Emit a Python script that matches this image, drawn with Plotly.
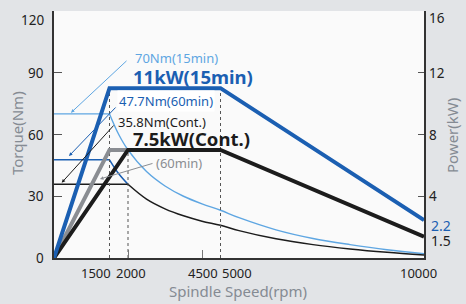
import plotly.graph_objects as go

# ---------------- data ----------------
# power curves (kW) vs spindle speed (rpm)
rpm_pow_15 = [0, 1500, 4500, 10000]
pow_15 = [0, 11, 11, 2.45]
rpm_pow_60 = [0, 1500, 2000]
pow_60 = [0, 7.0, 7.0]
rpm_pow_cont = [0, 2000, 4500, 10000]
pow_cont = [0, 7.0, 7.0, 1.38]

# torque curves (Nm)
rpm_tq_15_flat = [0, 1500]
tq_15_flat = [70, 70]
rpm_tq_15 = [1500, 1750, 2000, 2500, 3000, 3500, 4000, 4500, 5000, 6000, 7000, 8000, 9000, 10000]
tq_15 = [70, 60, 52.5, 42, 35, 30, 26.3, 23.2, 19.6, 13.7, 9.5, 6.5, 4.0, 2.1]
rpm_tq_60_flat = [0, 1500]
tq_60_flat = [47.7, 47.7]
rpm_tq_60 = [1500, 1750, 2000]
tq_60 = [47.7, 40.9, 35.8]
rpm_tq_cont_flat = [0, 2000]
tq_cont_flat = [35.8, 35.8]
rpm_tq_cont = [2000, 2500, 3000, 3500, 4000, 4500, 5000, 6000, 7000, 8000, 9000, 10000]
tq_cont = [35.8, 28.6, 23.9, 20.5, 17.9, 15.9, 13.3, 9.3, 6.5, 4.4, 2.75, 1.43]

# reference (dotted) speeds and their top power
ref_rpm = [1500, 2000, 4500]
ref_top_pow = [11, 7.0, 11]

# tick labels
x_tick_vals = [1500, 2000, 4500, 5000, 10000]
x_tick_text = ["1500", "2000", "4500", "5000", "10000"]
x_tick_shift = [-14, 3, -18, -2, -6]
torque_ticks = [0, 30, 60, 90, 120]
torque_tick_text = ["0", "30", "60", "90", "120"]
power_ticks = [4, 8, 12, 16]
power_tick_text = ["4", "8", "12", "16"]

# ---------------- styling ----------------
W, H = 466, 304
ML, MR, MT, MB = 54, 42, 11, 46
PW = W - ML - MR
PH = H - MT - MB

LIGHT_BLUE = "#5ea6e2"
BLUE = "#1b5fb2"
BLACK = "#1c1c1c"
GREY = "#8a8d92"
TITLE_GREY = "#858b93"
FONT = "Noto Sans"


def px2paper(px, py):
    return (px - ML) / PW, (H - MB - py) / PH


fig = go.Figure()

# thin torque lines
fig.add_trace(go.Scatter(x=rpm_tq_15_flat, y=tq_15_flat, mode="lines",
                         line=dict(color=LIGHT_BLUE, width=1.4), hoverinfo="skip"))
fig.add_trace(go.Scatter(x=rpm_tq_15, y=tq_15, mode="lines",
                         line=dict(color=LIGHT_BLUE, width=1.4, shape="spline"), hoverinfo="skip"))
fig.add_trace(go.Scatter(x=rpm_tq_60_flat, y=tq_60_flat, mode="lines",
                         line=dict(color=BLUE, width=1.5), hoverinfo="skip"))
fig.add_trace(go.Scatter(x=rpm_tq_60, y=tq_60, mode="lines",
                         line=dict(color=BLUE, width=1.5, shape="spline"), hoverinfo="skip"))
fig.add_trace(go.Scatter(x=rpm_tq_cont_flat, y=tq_cont_flat, mode="lines",
                         line=dict(color=BLACK, width=1.4), hoverinfo="skip"))
fig.add_trace(go.Scatter(x=rpm_tq_cont, y=tq_cont, mode="lines",
                         line=dict(color=BLACK, width=1.5, shape="spline"), hoverinfo="skip"))

# dotted reference lines (on power axis)
for r, p in zip(ref_rpm, ref_top_pow):
    fig.add_trace(go.Scatter(x=[r, r], y=[0, p], yaxis="y2", mode="lines",
                             line=dict(color="#555555", width=1, dash="dot"), hoverinfo="skip"))

# thick power lines
fig.add_trace(go.Scatter(x=rpm_pow_60, y=pow_60, yaxis="y2", mode="lines",
                         line=dict(color=GREY, width=4), hoverinfo="skip"))
fig.add_trace(go.Scatter(x=rpm_pow_cont, y=pow_cont, yaxis="y2", mode="lines",
                         line=dict(color=BLACK, width=4), hoverinfo="skip"))
fig.add_trace(go.Scatter(x=rpm_pow_15, y=pow_15, yaxis="y2", mode="lines",
                         line=dict(color=BLUE, width=4), hoverinfo="skip"))

annotations = []

# x tick labels
for v, t, s in zip(x_tick_vals, x_tick_text, x_tick_shift):
    annotations.append(dict(x=v, y=0, xref="x", yref="paper", text=t, showarrow=False,
                            xanchor="center", yanchor="top", xshift=s, yshift=-4,
                            font=dict(family=FONT, size=13, color="#222222")))

# left (torque) tick labels; the top one sits a little below its tick
for v, t in zip(torque_ticks, torque_tick_text):
    annotations.append(dict(x=0, y=v, xref="paper", yref="y", text=t, showarrow=False,
                            xanchor="right", yanchor="middle", xshift=-8,
                            yshift=-9 if v == torque_ticks[-1] else 0,
                            font=dict(family=FONT, size=13.5, color="#222222")))
# right (power) tick labels
for v, t in zip(power_ticks, power_tick_text):
    annotations.append(dict(x=1, y=v, xref="paper", yref="y2", text=t, showarrow=False,
                            xanchor="left", yanchor="middle", xshift=3,
                            yshift=-7 if v == power_ticks[-1] else 0,
                            font=dict(family=FONT, size=13.5, color="#222222")))

# axis titles
xx, yy = px2paper(238, 291)
annotations.append(dict(x=xx, y=yy, xref="paper", yref="paper", text="Spindle Speed(rpm)",
                        showarrow=False, xanchor="center", yanchor="middle",
                        font=dict(family=FONT, size=15, color=TITLE_GREY)))
xx, yy = px2paper(17, 133)
annotations.append(dict(x=xx, y=yy, xref="paper", yref="paper", text="Torque(Nm)", textangle=-90,
                        showarrow=False, xanchor="center", yanchor="middle",
                        font=dict(family=FONT, size=15, color=TITLE_GREY)))
xx, yy = px2paper(452, 135)
annotations.append(dict(x=xx, y=yy, xref="paper", yref="paper", text="Power(kW)", textangle=-90,
                        showarrow=False, xanchor="center", yanchor="middle",
                        font=dict(family=FONT, size=15, color=TITLE_GREY)))

# end-value labels on the right
xx, yy = px2paper(429, 225)
annotations.append(dict(x=xx, y=yy, xref="paper", yref="paper", text="2.2", showarrow=False,
                        xanchor="left", yanchor="middle", font=dict(family=FONT, size=14, color=BLUE)))
xx, yy = px2paper(429, 240)
annotations.append(dict(x=xx, y=yy, xref="paper", yref="paper", text="1.5", showarrow=False,
                        xanchor="left", yanchor="middle", font=dict(family=FONT, size=14, color=BLACK)))

# text labels
labels = [
    ("70Nm(15min)", 133, 58.5, 13, LIGHT_BLUE, None),
    ("<b>11kW(15min)</b>", 131, 77, 18.5, BLUE, None),
    ("47.7Nm(60min)", 117, 101, 13, BLUE, "white"),
    ("35.8Nm(Cont.)", 116, 122, 13, BLACK, None),
    ("<b>7.5kW(Cont.)</b>", 131, 138.5, 18.5, BLACK, None),
    ("(60min)", 154, 163, 13, GREY, None),
]
for text, px, py, size, color, bg in labels:
    xx, yy = px2paper(px, py)
    d = dict(x=xx, y=yy, xref="paper", yref="paper", text=text, showarrow=False,
             xanchor="left", yanchor="middle", font=dict(family=FONT, size=size, color=color))
    if bg:
        d.update(bgcolor=bg, borderpad=1)
    annotations.append(d)

# leader lines (tip px, tail px, color)
leaders = [
    ((71, 112.7), (128, 59.5), LIGHT_BLUE),
    ((69, 156), (117, 106), BLUE),
    ((61.7, 182.7), (115, 124), BLACK),
    ((100, 179), (154, 163), GREY),
]
for (tx, ty), (sx, sy), c in leaders:
    xx, yy = px2paper(tx, ty)
    annotations.append(dict(x=xx, y=yy, xref="paper", yref="paper", text="", showarrow=True,
                            ax=sx - tx, ay=sy - ty, arrowhead=2, arrowsize=0.7, arrowwidth=1,
                            arrowcolor=c, standoff=0, startstandoff=0))

fig.update_layout(
    width=W, height=H,
    margin=dict(l=ML, r=MR, t=MT, b=MB, autoexpand=False),
    paper_bgcolor="#e2e4e7",
    plot_bgcolor="#fafafa",
    showlegend=False,
    font=dict(family=FONT, size=13, color="#222222"),
    xaxis=dict(range=[0, 10000], showgrid=False, zeroline=False, showline=True,
               linecolor="#333333", linewidth=1.5, ticks="inside", ticklen=8,
               tickcolor="#777777", tickvals=[2000, 4000], showticklabels=False),
    yaxis=dict(range=[0, 120], showgrid=False, zeroline=False, showline=True,
               linecolor="#333333", linewidth=1.5, ticks="inside", ticklen=8,
               tickcolor="#555555", tickvals=torque_ticks, showticklabels=False),
    yaxis2=dict(range=[0, 16], overlaying="y", side="right", showgrid=False, zeroline=False,
                showline=True, linecolor="#333333", linewidth=1.5, ticks="inside", ticklen=6,
                tickcolor="#555555", tickvals=power_ticks, showticklabels=False),
    annotations=annotations,
)

fig.write_html("out.html", config={"displayModeBar": False},
               post_script="document.body.style.margin='0';")
